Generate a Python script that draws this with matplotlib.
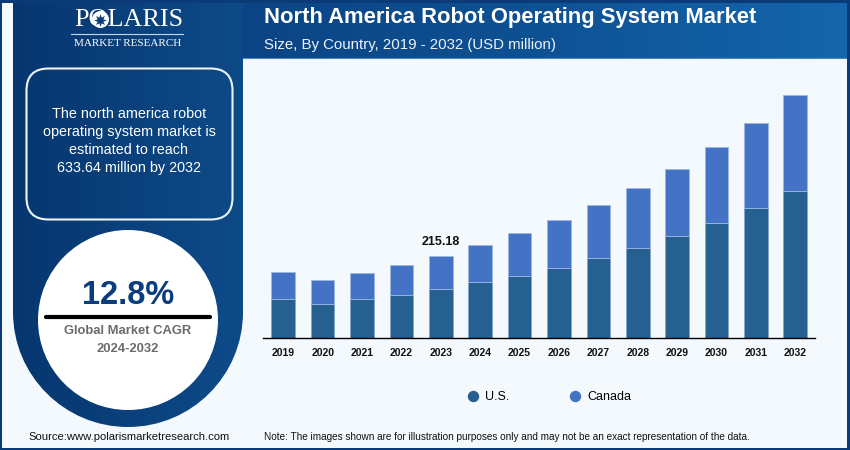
import numpy as np
import matplotlib
matplotlib.use('Agg')
import matplotlib.pyplot as plt
from matplotlib.lines import Line2D
from matplotlib.patches import Circle, FancyBboxPatch, PathPatch, Rectangle
from matplotlib.path import Path
from matplotlib.colors import LinearSegmentedColormap

plt.rcParams['font.family'] = ['Liberation Sans', 'DejaVu Sans']

years = ['2019', '2020', '2021', '2022', '2023', '2024', '2025',
         '2026', '2027', '2028', '2029', '2030', '2031', '2032']
us = [102, 90, 102, 113, 128, 145, 163, 184, 208, 236, 265, 299, 339, 383]
canada = [70, 61, 68, 78, 87.18, 98, 110, 124, 140, 155, 177, 200, 223, 250.64]
labels = ['U.S.', 'Canada']

NAVY = '#0a3d7c'
PAGE = '#f4f9fd'
US_COL = '#256090'
CA_COL = '#4472c4'

W, H = 850, 450
fig = plt.figure(figsize=(8.5, 4.5), dpi=100, facecolor=PAGE)

# background layer, in pixels
bg = fig.add_axes([0, 0, 1, 1])
bg.set_xlim(0, W)
bg.set_ylim(H, 0)
bg.axis('off')

# frame
for r in [(0, 0, W, 2.5), (0, 447.5, W, 2.5), (0, 0, 2.5, H), (847.5, 0, 2.5, H)]:
    bg.add_patch(Rectangle(r[:2], r[2], r[3], fc='#0a3a78', ec='none', zorder=5))

# header
cmap_head = LinearSegmentedColormap.from_list('head', ['#0b4484', '#0e5294', '#1566ac'])
bg.imshow(np.linspace(0, 1, 256).reshape(1, -1), extent=(243, 848, 58, 2), cmap=cmap_head,
          aspect='auto', zorder=1)
bg.plot([243, 848], [58, 58], color='#4f88bd', lw=0.8, zorder=2)

# left panel with the rounded bottom
cmap_left = LinearSegmentedColormap.from_list('left', ['#07366f', '#0d4b88'])
im = bg.imshow(np.linspace(0, 1, 256).reshape(1, -1), extent=(13, 243, 430, 2), cmap=cmap_left,
               aspect='auto', zorder=1)
k = 0.5523 * 115
verts = [(13, 2), (243, 2), (243, 312), (243, 312 + k), (128 + k, 427), (128, 427),
         (128 - k, 427), (13, 312 + k), (13, 312), (13, 2)]
codes = [Path.MOVETO, Path.LINETO, Path.LINETO, Path.CURVE4, Path.CURVE4, Path.CURVE4,
         Path.CURVE4, Path.CURVE4, Path.CURVE4, Path.CLOSEPOLY]
clip = PathPatch(Path(verts, codes), transform=bg.transData, fc='none', ec='none')
bg.add_patch(clip)
im.set_clip_path(clip)
bg.set_xlim(0, W)
bg.set_ylim(H, 0)

# logo
bg.text(128.5, 20, 'POLARIS', color='white', family='Liberation Serif', fontsize=18.8,
        ha='center', va='center', zorder=3)
bg.add_patch(Circle((100.5, 19.5), 8.5, fc='white', ec='none', zorder=4))
bg.plot([100.5], [19.5], marker=(8, 1, 0), ms=9, color=NAVY, mew=0, zorder=5)
bg.plot([71, 183], [34, 34], color='#c8d6e6', lw=0.8, zorder=3)
bg.text(127.5, 44, 'MARKET RESEARCH', color='white', family='Liberation Serif', fontsize=8,
        ha='center', va='center', zorder=3)

# text box
bg.add_patch(FancyBboxPatch((26.5, 68.5), 206, 151, boxstyle='round,pad=0,rounding_size=22',
                            fc='none', ec='#eef3f8', lw=1.5, zorder=3))
box_lines = ['The north america robot', 'operating system market is',
             'estimated to reach', '633.64 million by 2032']
for yy, line in zip([114, 132, 150, 168], box_lines):
    bg.text(129, yy, line, color='white', fontsize=10.4, ha='center', va='center', zorder=3)

# CAGR circle
bg.add_patch(Circle((128, 320), 90, fc='white', ec='none', zorder=3))
bg.text(128, 296, '12.8%', color=NAVY, fontsize=23.5, fontweight='bold', ha='center', va='center', zorder=4)
bg.plot([46, 210.5], [317, 317], color='black', lw=3, solid_capstyle='round', zorder=4)
bg.text(128, 331, 'Global Market CAGR', color='#6b6b6b', fontsize=9.4, fontweight='bold',
        ha='center', va='center', zorder=4)
bg.text(128, 349, '2024-2032', color='#6b6b6b', fontsize=9.4, fontweight='bold',
        ha='center', va='center', zorder=4)

# header and footer text
bg.text(264, 17.5, 'North America Robot Operating System Market', color='white', fontsize=15.8,
        fontweight='bold', ha='left', va='center', zorder=3)
bg.text(264, 45, 'Size, By Country, 2019 - 2032 (USD million)', color='#eef3f8', fontsize=10.85,
        ha='left', va='center', zorder=3)
bg.text(28, 437.5, 'Source:www.polarismarketresearch.com', color='#111111', fontsize=8.1,
        ha='left', va='center', zorder=6)
bg.text(264, 437.5, 'Note: The images shown are for illustration purposes only and may not be '
        'an exact representation of the data.', color='#111111', fontsize=7.23,
        ha='left', va='center', zorder=6)

# chart, placed so baseline sits at y=338 px
px_per_unit = 242.7 / 633.64
ax_top, ax_bot = 80, 338
ax = fig.add_axes([263 / W, 1 - ax_bot / H, (815 - 263) / W, (ax_bot - ax_top) / H])
ax.patch.set_alpha(0)
x = np.arange(len(years))
ax.bar(x, us, width=0.6, color=US_COL, edgecolor='#86a6cf', linewidth=0.6, label=labels[0])
ax.bar(x, canada, width=0.6, bottom=us, color=CA_COL, edgecolor='#9db8e2', linewidth=0.6, label=labels[1])
ax.set_xlim(-0.515, 13.5)
ax.set_ylim(0, (ax_bot - ax_top) / px_per_unit)
ax.set_xticks(x, years, fontsize=7.5, fontweight='bold', color='#111111')
ax.tick_params(axis='x', length=0, pad=7.5)
ax.set_yticks([])
for s in ['top', 'left', 'right']:
    ax.spines[s].set_visible(False)
ax.spines['bottom'].set_linewidth(1)

ax.annotate('215.18', (4, us[4] + canada[4]), xytext=(0, 14), textcoords='offset pixels',
            ha='center', va='center', fontsize=9, fontweight='bold', color='#111111')

handles = [Line2D([], [], ls='none', marker='o', ms=7.2, color=US_COL),
           Line2D([], [], ls='none', marker='o', ms=7.2, color=CA_COL)]
bg.legend(handles, labels, loc='center', bbox_to_anchor=(549, 397), bbox_transform=bg.transData,
          ncol=2, frameon=False, fontsize=9, handlelength=1, columnspacing=4.75, handletextpad=0.45)

fig.savefig('out.png', dpi=100, facecolor=PAGE)
